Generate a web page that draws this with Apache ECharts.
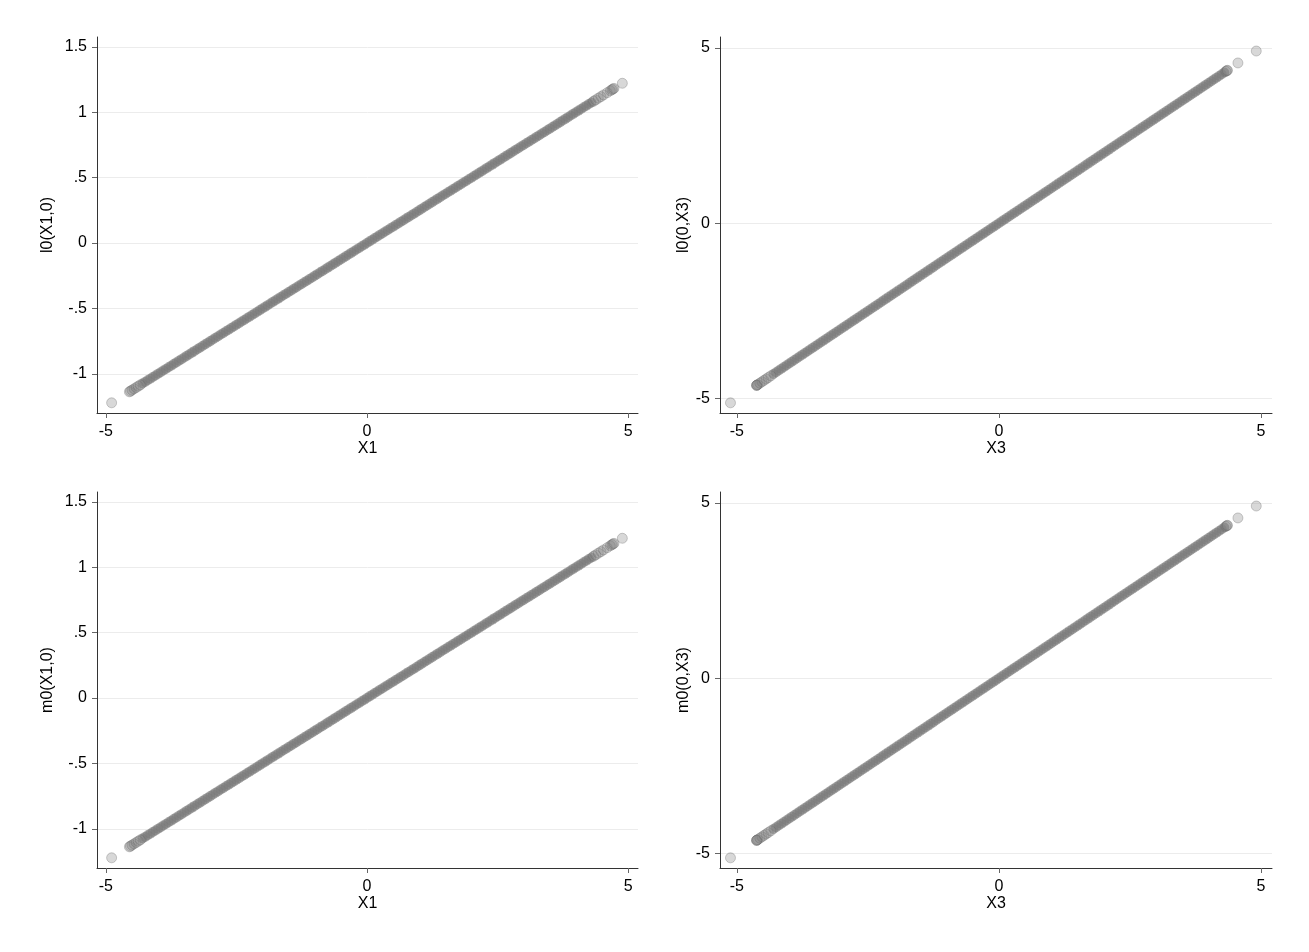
<!DOCTYPE html>
<html><head><meta charset="utf-8">
<script src="https://cdn.jsdelivr.net/npm/echarts@6/dist/echarts.min.js"></script>
<style>html,body{margin:0;padding:0;background:#fff}#c{width:1309px;height:952px}</style>
</head><body><div id="c"></div>
<script>
// ---------- data ----------
const x1Dense = [-4.30,-4.25,-4.20,-4.15,-4.10,-4.05,
-4.00,-3.95,-3.90,-3.85,-3.80,-3.75,-3.70,-3.65,-3.60,-3.55,-3.50,-3.45,-3.40,-3.35,-3.30,-3.25,-3.20,-3.15,-3.10,-3.05,
-3.00,-2.95,-2.90,-2.85,-2.80,-2.75,-2.70,-2.65,-2.60,-2.55,-2.50,-2.45,-2.40,-2.35,-2.30,-2.25,-2.20,-2.15,-2.10,-2.05,
-2.00,-1.95,-1.90,-1.85,-1.80,-1.75,-1.70,-1.65,-1.60,-1.55,-1.50,-1.45,-1.40,-1.35,-1.30,-1.25,-1.20,-1.15,-1.10,-1.05,
-1.00,-0.95,-0.90,-0.85,-0.80,-0.75,-0.70,-0.65,-0.60,-0.55,-0.50,-0.45,-0.40,-0.35,-0.30,-0.25,-0.20,-0.15,-0.10,-0.05,
0.00,0.05,0.10,0.15,0.20,0.25,0.30,0.35,0.40,0.45,0.50,0.55,0.60,0.65,0.70,0.75,0.80,0.85,0.90,0.95,
1.00,1.05,1.10,1.15,1.20,1.25,1.30,1.35,1.40,1.45,1.50,1.55,1.60,1.65,1.70,1.75,1.80,1.85,1.90,1.95,
2.00,2.05,2.10,2.15,2.20,2.25,2.30,2.35,2.40,2.45,2.50,2.55,2.60,2.65,2.70,2.75,2.80,2.85,2.90,2.95,
3.00,3.05,3.10,3.15,3.20,3.25,3.30,3.35,3.40,3.45,3.50,3.55,3.60,3.65,3.70,3.75,3.80,3.85,3.90,3.95,
4.00,4.05,4.10,4.15,4.20,4.25,4.30];
const l0X1Dense = [-1.075,-1.063,-1.050,-1.038,-1.025,-1.013,
-1.000,-0.988,-0.975,-0.963,-0.950,-0.938,-0.925,-0.913,-0.900,-0.888,-0.875,-0.863,-0.850,-0.838,-0.825,-0.813,-0.800,-0.788,-0.775,-0.763,
-0.750,-0.738,-0.725,-0.713,-0.700,-0.688,-0.675,-0.663,-0.650,-0.638,-0.625,-0.613,-0.600,-0.588,-0.575,-0.563,-0.550,-0.538,-0.525,-0.513,
-0.500,-0.488,-0.475,-0.463,-0.450,-0.438,-0.425,-0.413,-0.400,-0.388,-0.375,-0.363,-0.350,-0.338,-0.325,-0.313,-0.300,-0.288,-0.275,-0.263,
-0.250,-0.238,-0.225,-0.213,-0.200,-0.188,-0.175,-0.163,-0.150,-0.138,-0.125,-0.113,-0.100,-0.088,-0.075,-0.063,-0.050,-0.038,-0.025,-0.013,
0.000,0.013,0.025,0.038,0.050,0.063,0.075,0.088,0.100,0.113,0.125,0.138,0.150,0.163,0.175,0.188,0.200,0.213,0.225,0.238,
0.250,0.263,0.275,0.288,0.300,0.313,0.325,0.338,0.350,0.363,0.375,0.388,0.400,0.413,0.425,0.438,0.450,0.463,0.475,0.488,
0.500,0.513,0.525,0.538,0.550,0.563,0.575,0.588,0.600,0.613,0.625,0.638,0.650,0.663,0.675,0.688,0.700,0.713,0.725,0.738,
0.750,0.763,0.775,0.788,0.800,0.813,0.825,0.838,0.850,0.863,0.875,0.888,0.900,0.913,0.925,0.938,0.950,0.963,0.975,0.988,
1.000,1.013,1.025,1.038,1.050,1.063,1.075];
const x1Sparse   = [-4.89,-4.55,-4.53,-4.50,-4.46,-4.42,-4.38,-4.34, 4.34,4.38,4.43,4.48,4.53,4.60,4.66,4.69,4.71,4.73,4.89];
const l0X1Sparse = [-1.222,-1.138,-1.133,-1.125,-1.115,-1.105,-1.095,-1.085, 1.085,1.095,1.108,1.120,1.133,1.150,1.165,1.173,1.178,1.183,1.222];
const m0X1Dense = l0X1Dense;   // identical values in the reference
const m0X1Sparse = l0X1Sparse;

const x3Dense = [-4.30,-4.25,-4.20,-4.15,-4.10,-4.05,
-4.00,-3.95,-3.90,-3.85,-3.80,-3.75,-3.70,-3.65,-3.60,-3.55,-3.50,-3.45,-3.40,-3.35,-3.30,-3.25,-3.20,-3.15,-3.10,-3.05,
-3.00,-2.95,-2.90,-2.85,-2.80,-2.75,-2.70,-2.65,-2.60,-2.55,-2.50,-2.45,-2.40,-2.35,-2.30,-2.25,-2.20,-2.15,-2.10,-2.05,
-2.00,-1.95,-1.90,-1.85,-1.80,-1.75,-1.70,-1.65,-1.60,-1.55,-1.50,-1.45,-1.40,-1.35,-1.30,-1.25,-1.20,-1.15,-1.10,-1.05,
-1.00,-0.95,-0.90,-0.85,-0.80,-0.75,-0.70,-0.65,-0.60,-0.55,-0.50,-0.45,-0.40,-0.35,-0.30,-0.25,-0.20,-0.15,-0.10,-0.05,
0.00,0.05,0.10,0.15,0.20,0.25,0.30,0.35,0.40,0.45,0.50,0.55,0.60,0.65,0.70,0.75,0.80,0.85,0.90,0.95,
1.00,1.05,1.10,1.15,1.20,1.25,1.30,1.35,1.40,1.45,1.50,1.55,1.60,1.65,1.70,1.75,1.80,1.85,1.90,1.95,
2.00,2.05,2.10,2.15,2.20,2.25,2.30,2.35,2.40,2.45,2.50,2.55,2.60,2.65,2.70,2.75,2.80,2.85,2.90,2.95,
3.00,3.05,3.10,3.15,3.20,3.25,3.30,3.35,3.40,3.45,3.50,3.55,3.60,3.65,3.70,3.75,3.80,3.85,3.90,3.95,
4.00,4.05,4.10,4.15,4.20,4.25,4.30];
const l0X3Dense = [-4.30,-4.25,-4.20,-4.15,-4.10,-4.05,
-4.00,-3.95,-3.90,-3.85,-3.80,-3.75,-3.70,-3.65,-3.60,-3.55,-3.50,-3.45,-3.40,-3.35,-3.30,-3.25,-3.20,-3.15,-3.10,-3.05,
-3.00,-2.95,-2.90,-2.85,-2.80,-2.75,-2.70,-2.65,-2.60,-2.55,-2.50,-2.45,-2.40,-2.35,-2.30,-2.25,-2.20,-2.15,-2.10,-2.05,
-2.00,-1.95,-1.90,-1.85,-1.80,-1.75,-1.70,-1.65,-1.60,-1.55,-1.50,-1.45,-1.40,-1.35,-1.30,-1.25,-1.20,-1.15,-1.10,-1.05,
-1.00,-0.95,-0.90,-0.85,-0.80,-0.75,-0.70,-0.65,-0.60,-0.55,-0.50,-0.45,-0.40,-0.35,-0.30,-0.25,-0.20,-0.15,-0.10,-0.05,
0.00,0.05,0.10,0.15,0.20,0.25,0.30,0.35,0.40,0.45,0.50,0.55,0.60,0.65,0.70,0.75,0.80,0.85,0.90,0.95,
1.00,1.05,1.10,1.15,1.20,1.25,1.30,1.35,1.40,1.45,1.50,1.55,1.60,1.65,1.70,1.75,1.80,1.85,1.90,1.95,
2.00,2.05,2.10,2.15,2.20,2.25,2.30,2.35,2.40,2.45,2.50,2.55,2.60,2.65,2.70,2.75,2.80,2.85,2.90,2.95,
3.00,3.05,3.10,3.15,3.20,3.25,3.30,3.35,3.40,3.45,3.50,3.55,3.60,3.65,3.70,3.75,3.80,3.85,3.90,3.95,
4.00,4.05,4.10,4.15,4.20,4.25,4.30];
const x3Sparse   = [-5.12,-4.62,-4.62,-4.62,-4.60,-4.56,-4.52,-4.48,-4.44,-4.40,-4.35, 4.33,4.35,4.36,4.56,4.91];
const l0X3Sparse = [-5.12,-4.62,-4.62,-4.62,-4.60,-4.56,-4.52,-4.48,-4.44,-4.40,-4.35, 4.33,4.35,4.36,4.57,4.91];
const m0X3Dense = l0X3Dense;
const m0X3Sparse = l0X3Sparse;

const xTicks = [-5, 0, 5];
const yTicksX1 = [-1, -0.5, 0, 0.5, 1, 1.5];
const yTicksX3 = [-5, 0, 5];

// ---------- chart ----------
const FONT = '"Liberation Sans", Arial, sans-serif';
const pairs = (xs, ys) => xs.map((v, i) => [v, ys[i]]);
const fmt = v => String(v).replace(/^(-?)0\./, '$1.');

const grids = [
  {left: 97,  top: 37,  width: 541, height: 376},
  {left: 720, top: 37,  width: 552, height: 376},
  {left: 97,  top: 492, width: 541, height: 376},
  {left: 720, top: 492, width: 552, height: 376}
];
const panels = [
  {xName: 'X1', yName: 'l0(X1,0)', xr: [-5.17, 5.19], yr: [-1.30, 1.576], yt: yTicksX1, nameGap: 41, dense: pairs(x1Dense, l0X1Dense), sparse: pairs(x1Sparse, l0X1Sparse)},
  {xName: 'X3', yName: 'l0(0,X3)', xr: [-5.32, 5.21], yr: [-5.41, 5.31], yt: yTicksX3, nameGap: 27, dense: pairs(x3Dense, l0X3Dense), sparse: pairs(x3Sparse, l0X3Sparse)},
  {xName: 'X1', yName: 'm0(X1,0)', xr: [-5.17, 5.19], yr: [-1.30, 1.576], yt: yTicksX1, nameGap: 41, dense: pairs(x1Dense, m0X1Dense), sparse: pairs(x1Sparse, m0X1Sparse)},
  {xName: 'X3', yName: 'm0(0,X3)', xr: [-5.32, 5.21], yr: [-5.41, 5.31], yt: yTicksX3, nameGap: 27, dense: pairs(x3Dense, m0X3Dense), sparse: pairs(x3Sparse, m0X3Sparse)}
];

const axisCommon = {
  axisLine: {show: true, onZero: false, lineStyle: {color: '#333', width: 1}},
  axisTick: {show: true, inside: false, length: 5, lineStyle: {color: '#666'}},
  nameLocation: 'middle',
  nameTextStyle: {fontFamily: FONT, fontSize: 16, color: '#000'}
};

const xAxes = [], yAxes = [], series = [];
panels.forEach((p, i) => {
  xAxes.push(Object.assign({}, axisCommon, {
    gridIndex: i, type: 'value', min: p.xr[0], max: p.xr[1],
    name: p.xName, nameGap: 27,
    axisTick: Object.assign({}, axisCommon.axisTick, {customValues: xTicks}),
    axisLabel: {customValues: xTicks, formatter: fmt, fontFamily: FONT, fontSize: 16, color: '#000', margin: 11},
    splitLine: {show: false}
  }));
  yAxes.push(Object.assign({}, axisCommon, {
    gridIndex: i, type: 'value', min: p.yr[0], max: p.yr[1],
    name: p.yName, nameGap: p.nameGap,
    axisTick: Object.assign({}, axisCommon.axisTick, {customValues: p.yt}),
    axisLabel: {customValues: p.yt, formatter: fmt, fontFamily: FONT, fontSize: 16, color: '#000', margin: 10},
    splitLine: {show: true, lineStyle: {color: '#ececec', width: 1}}
  }));
  series.push({
    type: 'scatter', xAxisIndex: i, yAxisIndex: i, data: p.dense,
    symbol: 'circle', symbolSize: 10, silent: true,
    itemStyle: {color: 'rgba(120,120,120,0.75)', borderWidth: 0}
  });
  series.push({
    type: 'scatter', xAxisIndex: i, yAxisIndex: i, data: p.sparse,
    symbol: 'circle', symbolSize: 10, silent: true,
    itemStyle: {color: 'rgba(128,128,128,0.38)', borderColor: 'rgba(100,100,100,0.4)', borderWidth: 1}
  });
});

const chart = echarts.init(document.getElementById('c'), null, {renderer: 'canvas'});
chart.setOption({
  animation: false,
  backgroundColor: '#fff',
  grid: grids,
  xAxis: xAxes,
  yAxis: yAxes,
  series: series
});
</script>
</body></html>
